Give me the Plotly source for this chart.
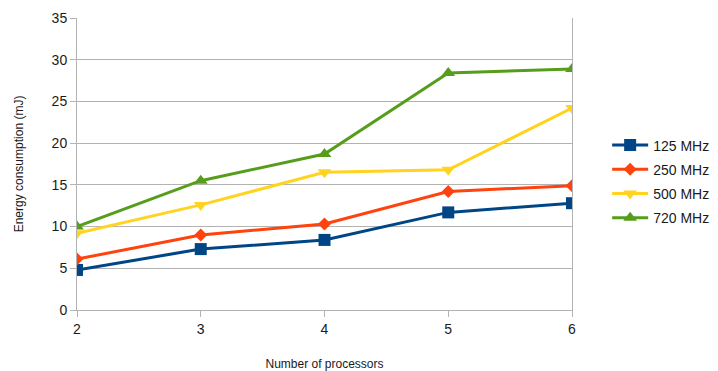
import plotly.graph_objects as go

processors = [2, 3, 4, 5, 6]
mhz_125 = [4.8, 7.3, 8.4, 11.7, 12.8]
mhz_250 = [6.1, 9.0, 10.3, 14.2, 14.9]
mhz_500 = [9.2, 12.6, 16.5, 16.8, 24.2]
mhz_720 = [10.0, 15.5, 18.7, 28.4, 28.9]

series = [
    ("125 MHz", mhz_125, "#004586", "square", 12),
    ("250 MHz", mhz_250, "#ff420e", "diamond", 10),
    ("500 MHz", mhz_500, "#ffd320", "triangle-down", 12),
    ("720 MHz", mhz_720, "#579d1c", "triangle-up", 12),
]

fig = go.Figure()
for name, vals, color, sym, size in series:
    fig.add_trace(go.Scatter(
        x=processors, y=vals, name=name, mode="lines+markers",
        legendgroup=name,
        line=dict(color=color, width=3),
        marker=dict(symbol=sym, size=size, color=color),
    ))

grid = "#b3b3b3"
# page body has an 8px margin, so the figure is sized to fit the window
fig.update_layout(
    width=710, height=363,
    margin=dict(l=69, r=146, t=10, b=61, autoexpand=False),
    paper_bgcolor="white", plot_bgcolor="white",
    font=dict(family="Liberation Sans, Arial, sans-serif", color="#1a1a1a"),
    legend=dict(x=1.071, y=0.44, yanchor="middle", xanchor="left",
                font=dict(size=14), tracegroupgap=3, itemwidth=36),
    xaxis=dict(
        range=[2, 6], tickvals=processors, showgrid=False, automargin=False,
        showline=True, linecolor=grid, linewidth=1,
        ticks="outside", ticklen=6, tickcolor=grid,
        tickfont=dict(size=14), zeroline=False,
        title=dict(text="Number of processors", font=dict(size=12), standoff=23),
    ),
    yaxis=dict(
        range=[0, 35], dtick=5, showgrid=True, gridcolor=grid, gridwidth=1,
        automargin=False,
        showline=True, linecolor=grid, linewidth=1, mirror=True,
        ticks="outside", ticklen=6, tickcolor=grid,
        tickfont=dict(size=14), zeroline=False,
        title=dict(text="Energy consumption (mJ)", font=dict(size=12), standoff=25),
    ),
)

fig.write_html("out.html")
